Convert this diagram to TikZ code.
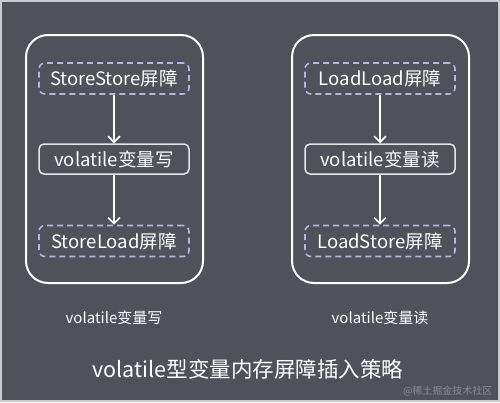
\documentclass[tikz,border=0pt]{standalone}
\usepackage{fontspec}
\setmainfont{Noto Sans CJK SC}
\usetikzlibrary{arrows.meta}
\definecolor{bg}{HTML}{50515B}
\definecolor{frame}{HTML}{C8CACF}
\definecolor{lav}{HTML}{B4B6E4}
\definecolor{wm}{HTML}{8A8B94}
\tikzset{
  outerbox/.style={draw=white, line width=2pt, rounded corners=22pt},
  barrier/.style={draw=lav, line width=1.6pt, dash pattern=on 6pt off 4pt, rounded corners=6pt,
     minimum width=150pt, minimum height=31pt, inner sep=0pt, text=white, font=\fontsize{18.5}{18.5}\selectfont},
  opbox/.style={draw=white!90!black, line width=1.5pt, rounded corners=5pt,
     minimum width=150pt, minimum height=30pt, inner sep=0pt, text=white, font=\fontsize{18.5}{18.5}\selectfont},
  flow/.style={draw=white, line width=1.6pt, -{Straight Barb[length=6pt,width=12pt,line width=1.6pt]}},
  caption/.style={text=white, font=\fontsize{15}{15}\selectfont},
  title/.style={text=white, font=\fontsize{21.5}{21.5}\selectfont},
}
\begin{document}
\begin{tikzpicture}[x=1pt,y=-1pt]
\useasboundingbox (0,0) rectangle (500,402);
\fill[frame] (0,0) rectangle (500,402);
\fill[bg] (2,2) rectangle (498,400);
% left
\draw[outerbox] (26,35) rectangle (203,283);
\node[barrier] (ss) at (114,78.5) {StoreStore屏障};
\node[opbox] (vw) at (114,159) {volatile变量写};
\node[barrier] (sl) at (114,241) {StoreLoad屏障};
\draw[flow] (ss) -- (vw);
\draw[flow] (vw) -- (sl);
\node[caption] (cw) at (114,318) {volatile变量写};
% right
\draw[outerbox] (292,35) rectangle (469,283);
\node[barrier] (ll) at (380,78.5) {LoadLoad屏障};
\node[opbox] (vr) at (380,159) {volatile变量读};
\node[barrier] (ls) at (380,241) {LoadStore屏障};
\draw[flow] (ll) -- (vr);
\draw[flow] (vr) -- (ls);
\node[caption] (cr) at (380,318) {volatile变量读};
% title
\node[title] (t) at (248,369) {volatile型变量内存屏障插入策略};
\node[text=wm, font=\fontsize{10}{10}\selectfont, anchor=east] (w) at (496,391) {@稀土掘金技术社区};
\end{tikzpicture}
\end{document}
